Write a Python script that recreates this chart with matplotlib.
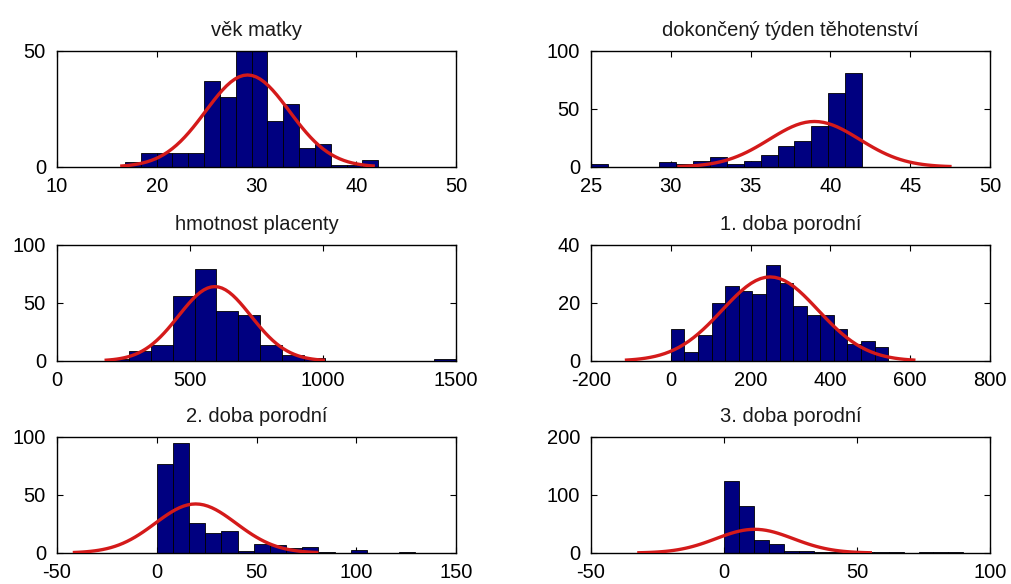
import numpy as np
import matplotlib
matplotlib.use("Agg")
import matplotlib.pyplot as plt

plt.rcParams["font.family"] = ["Liberation Sans", "DejaVu Sans"]
plt.rcParams["axes.unicode_minus"] = False

# Histogram counts (16 bins each) over the data range [lo, hi]
titles = ["věk matky", "dokončený týden těhotenství",
          "hmotnost placenty", "1. doba porodní",
          "2. doba porodní", "3. doba porodní"]

age_range = (16.8, 42.2)
age_counts = [2, 6, 6, 6, 6, 37, 30, 50, 50, 20, 27, 8, 10, 1, 1, 3]

week_range = (25.0, 42.0)
week_counts = [3, 0, 0, 0, 4, 3, 5, 9, 3, 5, 10, 18, 22, 35, 64, 81]

placenta_range = (190.0, 1500.0)
placenta_counts = [2, 9, 14, 56, 79, 43, 40, 14, 5, 3, 0, 0, 0, 0, 0, 2]

stage1_range = (0.0, 545.0)
stage1_counts = [11, 3, 9, 20, 26, 24, 23, 33, 27, 19, 16, 16, 11, 6, 7, 5]

stage2_range = (0.0, 129.6)
stage2_counts = [77, 95, 26, 17, 19, 2, 8, 7, 4, 5, 1, 0, 3, 0, 0, 1]

stage3_range = (0.0, 90.0)
stage3_counts = [125, 81, 22, 15, 3, 3, 2, 2, 2, 1, 2, 2, 0, 1, 1, 2]

# Normal fit parameters (mean, standard deviation)
fit_mean = [29.1, 39.0, 593.0, 249.0, 19.5, 11.5]
fit_sd = [4.2, 2.83, 136.0, 120.0, 20.25, 14.5]

ranges = [age_range, week_range, placenta_range, stage1_range, stage2_range, stage3_range]
counts = [age_counts, week_counts, placenta_counts, stage1_counts, stage2_counts, stage3_counts]

xlims = [(10, 50), (25, 50), (0, 1500), (-200, 800), (-50, 150), (-50, 100)]
xticks = [[10, 20, 30, 40, 50], [25, 30, 35, 40, 45, 50], [0, 500, 1000, 1500],
          [-200, 0, 200, 400, 600, 800], [-50, 0, 50, 100, 150], [-50, 0, 50, 100]]
ylims = [(0, 50), (0, 100), (0, 100), (0, 40), (0, 100), (0, 200)]
yticks = [[0, 50], [0, 50, 100], [0, 50, 100], [0, 20, 40], [0, 50, 100], [0, 100, 200]]

W, H = 1011, 584
fig = plt.figure(figsize=(W / 100, H / 100), dpi=100)
fig.patch.set_facecolor("white")

col_left = [57, 591]
row_top = [51, 245, 437]
ax_w, ax_h = 399, 116

for i in range(6):
    r, c = divmod(i, 2)
    left = col_left[c] / W
    bottom = 1 - (row_top[r] + ax_h) / H
    ax = fig.add_axes([left, bottom, ax_w / W, ax_h / H])

    lo, hi = ranges[i]
    cnt = np.array(counts[i], dtype=float)
    nb = len(cnt)
    edges = np.linspace(lo, hi, nb + 1)
    centers = 0.5 * (edges[:-1] + edges[1:])
    ax.hist(centers, bins=edges, weights=cnt, color="#000080",
            edgecolor="black", linewidth=0.6, zorder=2)

    # Fitted normal density scaled to the histogram
    mu, sd = fit_mean[i], fit_sd[i]
    binw = (hi - lo) / nb
    xs = np.linspace(mu - 3 * sd, mu + 3 * sd, 61)
    ys = cnt.sum() * binw * np.exp(-0.5 * ((xs - mu) / sd) ** 2) / (sd * np.sqrt(2 * np.pi))
    ax.plot(xs, ys, color="#d41a1a", linewidth=2.4, zorder=3)

    ax.set_xlim(*xlims[i])
    ax.set_ylim(*ylims[i])
    ax.set_xticks(xticks[i])
    ax.set_yticks(yticks[i])
    ax.tick_params(direction="in", length=4, width=0.8, labelsize=14.5,
                   top=True, right=True)
    ax.tick_params(axis="x", pad=7)
    ax.tick_params(axis="y", pad=8)
    for s in ax.spines.values():
        s.set_linewidth(1.0)
    ax.set_title(titles[i], fontsize=14.5, pad=11, color="#1a1a1a")

fig.savefig("out.png", dpi=100, facecolor="white")
